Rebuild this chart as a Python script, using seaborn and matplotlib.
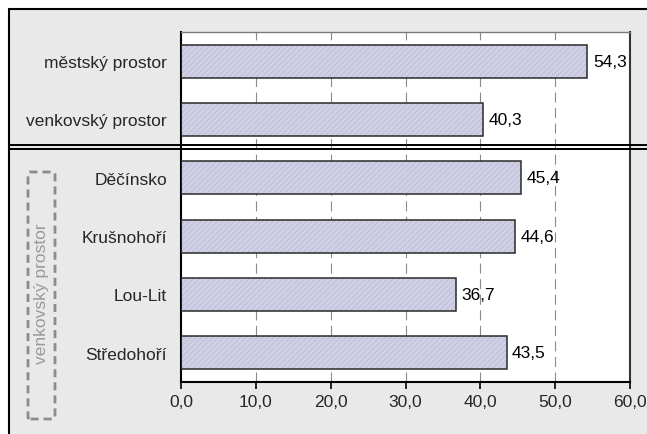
import matplotlib
matplotlib.use("Agg")
import matplotlib.pyplot as plt
import seaborn as sns
import pandas as pd
from matplotlib.patches import Rectangle, FancyBboxPatch
from matplotlib.lines import Line2D
from matplotlib.transforms import blended_transform_factory

# Data
categories = ["městský prostor", "venkovský prostor", "Děčínsko", "Krušnohoří", "Lou-Lit", "Středohoří"]
values = [54.3, 40.3, 45.4, 44.6, 36.7, 43.5]
x_ticks = [0, 10, 20, 30, 40, 50, 60]
group_label = "venkovský prostor"

df = pd.DataFrame({"kategorie": categories, "hodnota": values})

sns.set_style("white")
plt.rcParams["font.family"] = ["Liberation Sans", "DejaVu Sans"]
plt.rcParams["hatch.linewidth"] = 0.4

W, H = 647, 435
fig = plt.figure(figsize=(W / 100, H / 100), dpi=100, facecolor="white")

# gray background panel, frame only on top and left (rest runs off the image)
fig.patches.append(Rectangle((9 / W, 0), 1 - 9 / W, (H - 10) / H, transform=fig.transFigure,
                             facecolor="#e9e9e9", edgecolor="none", zorder=-5))
fig.lines.append(Line2D([9 / W, 1], [(H - 10) / H] * 2, transform=fig.transFigure,
                        color="black", linewidth=1.5, zorder=-4))
fig.lines.append(Line2D([9 / W] * 2, [0, (H - 10) / H], transform=fig.transFigure,
                        color="black", linewidth=1.5, zorder=-4))

ax = fig.add_axes([181 / W, (H - 383) / H, (630 - 181) / W, (383 - 33) / H])
ax.set_facecolor("white")

# hatched fill, then outline
sns.barplot(data=df, x="hodnota", y="kategorie", orient="h", width=0.565, ax=ax,
            color="#cdcde8", edgecolor="#b2b2d6", linewidth=0, hatch="//////", zorder=2)
sns.barplot(data=df, x="hodnota", y="kategorie", orient="h", width=0.565, ax=ax,
            fill=False, edgecolor="#2a2a2a", linewidth=1.1, zorder=3)

for i, v in enumerate(values):
    ax.annotate(f"{v:.1f}".replace(".", ","), (v, i), xytext=(4, 0), textcoords="offset points",
                va="center", ha="left", fontsize=12.5, color="black", zorder=4)

ax.set_xlim(0, 60)
ax.set_ylim(5.5, -0.5)
ax.set_xticks(x_ticks)
ax.set_xticklabels([f"{t:.1f}".replace(".", ",") for t in x_ticks], fontsize=12.5)
ax.set_xlabel("")
ax.set_ylabel("")
ax.tick_params(axis="y", length=0, pad=10, labelsize=12.5)
ax.tick_params(axis="x", direction="out", length=5, width=1.2, color="black", bottom=True, pad=4)

for t in x_ticks[1:-1]:
    ax.axvline(t, color="#8a8a8a", linewidth=0.8, dashes=(9, 5), zorder=1)

ax.spines["left"].set_color("black")
ax.spines["left"].set_linewidth(1.5)
ax.spines["bottom"].set_color("black")
ax.spines["bottom"].set_linewidth(1.5)
ax.spines["top"].set_color("#7a7a7a")
ax.spines["top"].set_linewidth(1.0)
ax.spines["right"].set_color("#333333")
ax.spines["right"].set_linewidth(1.5)

# double separator line between the two groups
tr = blended_transform_factory(fig.transFigure, ax.transData)
for yy in (1.43, 1.5):
    fig.lines.append(Line2D([9 / W, 1.0], [yy, yy], transform=tr, color="black", linewidth=1.4, zorder=5))

# dashed bracket with rotated group label
fig.patches.append(FancyBboxPatch((28 / W, (H - 420) / H), 27 / W, 247 / H,
                                  boxstyle="round,pad=0,rounding_size=0.004", transform=fig.transFigure,
                                  facecolor="none", edgecolor="#8c8c8c", linewidth=2.0,
                                  linestyle=(0, (2.9, 1.8)), zorder=2))
fig.text(42 / W, (H - 294) / H, group_label, rotation=90, ha="center", va="center",
         fontsize=12.5, color="#9a9a9a")

fig.savefig("out.png", dpi=100, facecolor=fig.get_facecolor())
